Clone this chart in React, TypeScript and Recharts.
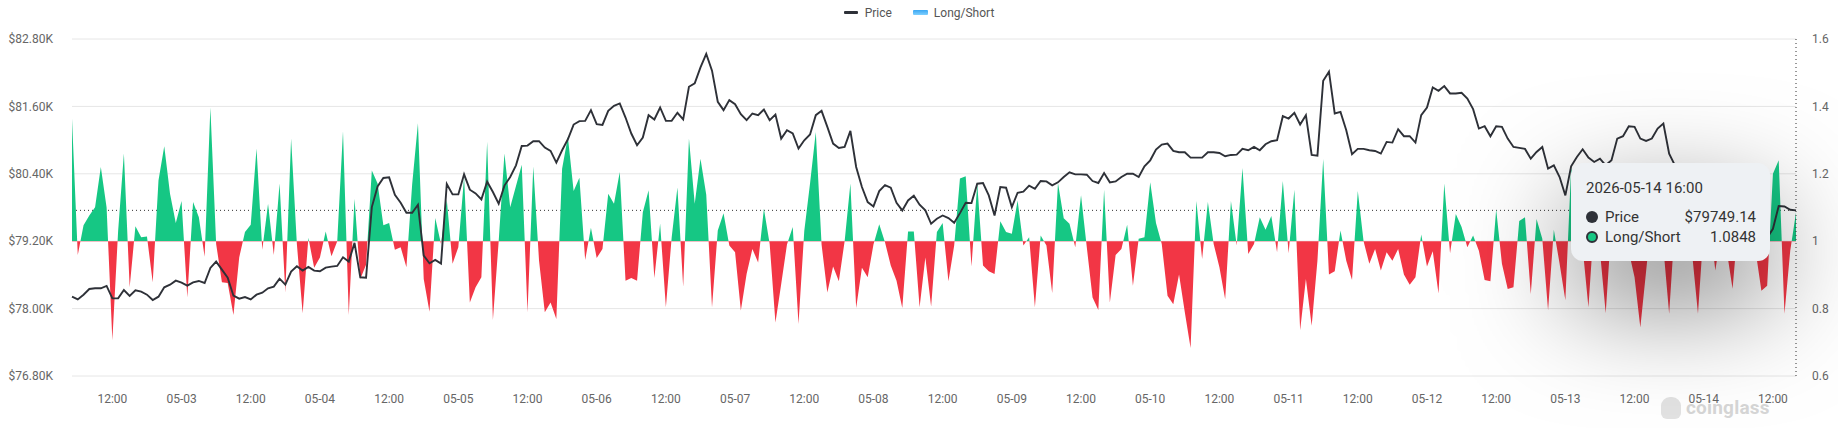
import {
  ComposedChart,
  Line,
  Area,
  XAxis,
  YAxis,
  CartesianGrid,
  Tooltip,
  Legend,
  ReferenceLine,
} from 'recharts';

// hourly samples, first one is 2026-05-02 05:00
const START_UTC = Date.UTC(2026, 4, 2, 5);
const HOUR_MS = 3600 * 1000;

const price = [
  78212, 78164, 78248, 78349, 78361, 78361, 78403, 78182, 78182, 78331,
  78224, 78325, 78301, 78248, 78152, 78212, 78379, 78426, 78498, 78462,
  78409, 78468, 78492, 78456, 78724, 78837, 78694, 78551, 78230, 78176,
  78206, 78164, 78248, 78283, 78361, 78391, 78533, 78426, 78658, 78754,
  78676, 78742, 78676, 78664, 78730, 78748, 78760, 78914, 78837, 79170,
  78557, 78551, 79807, 80176, 80325, 80337, 80027, 79884, 79706, 79706,
  79849, 78944, 78807, 78867, 78801, 80218, 80033, 80033, 80390, 80117,
  80051, 79944, 80259, 80075, 79867, 80190,
  80343, 80551, 80896, 80902, 80980, 80980, 80867, 80807, 80599, 80819,
  81015, 81277, 81337, 81343, 81533, 81283, 81271, 81521, 81611, 81652,
  81402, 81117, 80908, 81045, 81444, 81367, 81581, 81343, 81343, 81486,
  81367, 81950, 82009, 82295, 82533, 82236, 81682, 81533, 81712, 81640,
  81462, 81355, 81474, 81444, 81545, 81355, 81456, 81027, 81176, 81117,
  80849, 80997, 81099, 81444, 81521, 81236, 80938, 80861, 80879, 81164,
  80521, 80164, 79896, 79819, 80093, 80200, 80152, 79884, 79748, 79926,
  80009, 79849, 79748, 79510, 79600,
  79658, 79611, 79527, 79700, 79884, 79878, 80224, 80236, 80015, 79658,
  80164, 80152, 79807, 80063, 80081, 80188, 80134, 80271, 80265, 80194,
  80248, 80343, 80426, 80390, 80390, 80384, 80271, 80236, 80414, 80248,
  80265, 80343, 80402, 80402, 80343, 80533, 80640, 80831, 80920, 80938,
  80807, 80783, 80783, 80688, 80688, 80688, 80783, 80783, 80771, 80712,
  80736, 80742, 80843, 80819, 80879, 80819, 80926, 80980, 80998, 81426,
  81384, 81486, 81277, 81444, 80736, 80724, 82057, 82218, 81474, 81503,
  81176, 80748, 80843, 80843, 80820,
  80807, 80760, 80968, 80956, 81194, 81069, 81069, 80956, 81444, 81581,
  81938, 81878, 81962, 81831, 81831, 81843, 81741, 81551, 81206, 81247,
  81069, 81247, 81235, 81027, 80878, 80861, 80843, 80670, 80789, 80878,
  80492, 80551, 80343, 80015, 80533, 80700, 80837, 80688, 80611, 80670,
  80551, 80640, 81027, 81069, 81247, 81235, 81027, 80986, 81027, 81206,
  81295, 80760, 80551, 80400, 80236, 80310, 80150, 80040, 79960, 80010,
  79870, 79720, 79780, 79610, 79520, 79560, 79430, 79320, 79260, 79420,
  79825, 79819, 79760, 79749.14,
];

const longShort = [
  1.364, 0.959, 1.047, 1.076, 1.101, 1.22, 1.1, 0.706, 1.03, 1.26,
  0.863, 1.044, 1.012, 1.014, 0.878, 1.18, 1.282, 1.141, 1.054, 1.119,
  0.833, 1.116, 1.071, 0.954, 1.397, 0.992, 0.878, 0.876, 0.781, 0.952,
  1.027, 1.049, 1.275, 0.975, 1.111, 0.959, 1.171, 0.848, 1.305, 0.992,
  0.786, 1.01, 0.921, 0.952, 1.029, 0.955, 1.0, 1.326, 0.781, 1.126,
  0.888, 0.93, 1.21, 1.171, 1.047, 1.054, 0.975, 0.982, 0.923, 1.17,
  1.35, 0.888, 0.791, 1.069, 0.992, 1.123, 0.933, 0.982, 1.19, 0.818,
  0.863, 0.893, 1.295, 0.766, 1.0, 1.26,
  1.101, 1.164, 1.227, 0.789, 1.222, 0.942, 0.789, 0.818, 0.769, 1.215,
  1.31, 1.149, 1.188, 0.944, 1.04, 0.95, 0.977, 1.141, 1.111, 1.205,
  0.883, 0.891, 0.883, 1.086, 1.151, 0.891, 1.052, 0.804, 1.01, 1.159,
  0.865, 1.305, 1.111, 1.245, 1.138, 0.804, 1.032, 1.083, 0.987, 0.967,
  0.794, 0.903, 0.977, 0.937, 1.096, 0.992, 0.759, 0.873, 0.99, 1.042,
  0.754, 1.03, 1.171, 1.324, 0.99, 0.848, 0.925, 0.881, 1.0, 1.171,
  0.802, 0.921, 0.893, 0.99, 1.05, 0.997, 0.928, 0.883, 0.802, 1.029,
  1.029, 0.804, 0.952, 0.806, 1.027,
  1.054, 0.881, 0.987, 1.186, 1.193, 0.925, 1.171, 0.928, 0.911, 0.903,
  1.059, 1.027, 1.022, 1.121, 0.987, 1.012, 0.804, 1.017, 0.987, 0.846,
  1.173, 1.068, 1.052, 0.982, 1.136, 0.982, 0.833, 0.796, 1.153, 0.818,
  0.959, 0.977, 1.049, 0.868, 1.007, 1.012, 1.175, 1.054, 0.992, 0.838,
  0.813, 0.901, 0.789, 0.683, 1.119, 0.947, 1.116, 0.992, 0.923, 0.828,
  1.119, 0.987, 1.217, 0.962, 0.992, 1.071, 1.034, 1.075, 0.967, 1.179,
  0.964, 1.153, 0.736, 0.888, 0.749, 0.942, 1.244, 0.901, 0.911, 1.032,
  0.942, 0.885, 1.149, 1.0, 0.933,
  0.977, 0.913, 0.967, 0.942, 0.977, 0.901, 0.871, 0.893, 1.02, 0.925,
  0.97, 0.845, 1.171, 0.964, 1.081, 1.042, 0.982, 1.017, 0.972, 0.885,
  0.881, 1.094, 0.933, 0.858, 0.863, 1.06, 1.071, 0.843, 1.066, 1.007,
  0.794, 1.034, 0.933, 0.825, 1.218, 1.12, 0.98, 0.804, 1.06, 0.97,
  0.786, 1.05, 1.1, 1.03, 0.97, 0.893, 0.744, 0.91, 1.08, 1.14,
  0.98, 0.785, 1.05, 1.09, 0.99, 0.96, 0.785, 1.04, 1.07, 0.913,
  1.02, 0.97, 0.859, 1.06, 1.03, 0.98, 0.97, 0.853, 0.868, 1.2,
  1.24, 0.785, 0.972, 1.0848,
];

const priceTicks = [76800, 78000, 79200, 80400, 81600, 82800];
const ratioTicks = [0.6, 0.8, 1, 1.2, 1.4, 1.6];

const pad2 = (n: number) => String(n).padStart(2, '0');

function stamp(i: number) {
  const d = new Date(START_UTC + i * HOUR_MS);
  return `${d.getUTCFullYear()}-${pad2(d.getUTCMonth() + 1)}-${pad2(d.getUTCDate())} ${pad2(d.getUTCHours())}:00`;
}

const times = price.map((_, i) => stamp(i));
// labels every 12h: "12:00" at noon, "MM-DD" at midnight
const xTicks = times.filter((t) => t.endsWith(' 12:00') || t.endsWith(' 00:00'));

const data = times.map((t, i) => ({ t, price: price[i], ls: longShort[i] }));

// where 1.0 sits inside the area's bounding box (area is drawn against baseValue 1)
const lsMax = Math.max(...longShort);
const lsMin = Math.min(...longShort);
const splitAt = (lsMax - 1) / (lsMax - lsMin);

const GREEN = '#16c784';
const RED = '#f23645';
const DARK = '#2e3138';
const AXIS_TEXT = { fill: '#666', fontSize: 12 };

function xLabel(t: string) {
  const hh = t.slice(11);
  return hh === '12:00' ? '12:00' : t.slice(5, 10);
}

function LegendRow() {
  return (
    <div
      style={{
        height: 25,
        display: 'flex',
        justifyContent: 'center',
        alignItems: 'center',
        fontSize: 12,
        color: '#555',
      }}
    >
      <span style={{ width: 14, height: 3, background: DARK, borderRadius: 1, marginRight: 7 }} />
      <span style={{ marginRight: 21 }}>Price</span>
      <span
        style={{
          width: 15,
          height: 5,
          background: 'linear-gradient(#3aa6f2, #7fd0ff)',
          borderRadius: 1,
          marginRight: 6,
        }}
      />
      <span>Long/Short</span>
    </div>
  );
}

function Dot({ color, ring }: { color: string; ring?: boolean }) {
  return (
    <span
      style={{
        display: 'inline-block',
        boxSizing: 'border-box',
        width: 12,
        height: 12,
        borderRadius: 6,
        background: color,
        border: ring ? `2px solid ${DARK}` : 'none',
        marginRight: 7,
      }}
    />
  );
}

function TipBox({ active, payload, label }: any) {
  if (!active || !payload || !payload.length) return null;
  const p = payload.find((x: any) => x.dataKey === 'price');
  const r = payload.find((x: any) => x.dataKey === 'ls');
  const row = { display: 'flex', alignItems: 'center', height: 20 };
  return (
    <div
      style={{
        boxSizing: 'border-box',
        width: 199,
        height: 98,
        padding: '14px 14px 0 15px',
        background: '#eef1f4',
        borderRadius: 12,
        boxShadow: '0 40px 110px rgba(0,0,0,0.5)',
        fontSize: 15,
        color: '#333',
        lineHeight: '20px',
      }}
    >
      <div style={{ height: 22, lineHeight: '22px', marginBottom: 8 }}>{label}</div>
      <div style={row}>
        <Dot color={DARK} />
        <span style={{ flex: 1 }}>Price</span>
        <span>${p ? Number(p.value).toFixed(2) : ''}</span>
      </div>
      <div style={row}>
        <Dot color={GREEN} ring />
        <span style={{ flex: 1 }}>Long/Short</span>
        <span>{r ? Number(r.value).toFixed(4) : ''}</span>
      </div>
    </div>
  );
}

export default function App() {
  const last = data.length - 1;
  return (
    <div
      style={{
        position: 'absolute',
        left: 0,
        top: 0,
        width: 1838,
        height: 428,
        background: '#fff',
        fontFamily: 'Roboto, sans-serif',
      }}
    >
      {/* watermark sits behind the chart, like the original */}
      <div
        style={{
          position: 'absolute',
          left: 1661,
          top: 396,
          display: 'flex',
          alignItems: 'center',
          pointerEvents: 'none',
        }}
      >
        <span
          style={{
            width: 20,
            height: 22,
            borderRadius: '9px 9px 6px 6px',
            background: '#e2e2e2',
            marginRight: 5,
          }}
        />
        <span style={{ fontSize: 19, fontWeight: 700, color: '#d6d6d6', letterSpacing: 0.2 }}>coinglass</span>
      </div>
      <ComposedChart
        width={1838}
        height={428}
        data={data}
        margin={{ top: 14, right: 0, bottom: 22, left: 0 }}
        style={{ position: 'relative' }}
      >
        <defs>
          <linearGradient id="lsSplit" x1="0" y1="0" x2="0" y2="1">
            <stop offset={splitAt} stopColor={GREEN} />
            <stop offset={splitAt} stopColor={RED} />
          </linearGradient>
        </defs>
        <CartesianGrid yAxisId="price" vertical={false} stroke="#e6e6e6" />
        <XAxis
          dataKey="t"
          ticks={xTicks}
          interval={0}
          tickFormatter={xLabel}
          axisLine={false}
          tickLine={false}
          tickMargin={12}
          height={30}
          tick={AXIS_TEXT}
        />
        <YAxis
          yAxisId="price"
          orientation="left"
          width={72}
          domain={[76800, 82800]}
          ticks={priceTicks}
          tickFormatter={(v: number) => `$${(v / 1000).toFixed(2)}K`}
          axisLine={false}
          tickLine={false}
          tickMargin={13}
          tick={AXIS_TEXT}
        />
        <YAxis
          yAxisId="ratio"
          orientation="right"
          width={42}
          domain={[0.6, 1.6]}
          ticks={ratioTicks}
          axisLine={false}
          tickLine={false}
          tickMargin={10}
          tick={AXIS_TEXT}
        />
        <Legend verticalAlign="top" wrapperStyle={{ top: 0, left: 0, width: 1838 }} content={<LegendRow />} />
        <ReferenceLine yAxisId="price" y={price[last]} stroke="#333" strokeDasharray="1 3" zIndex={50} />
        <Area
          yAxisId="ratio"
          type="linear"
          dataKey="ls"
          name="Long/Short"
          baseValue={1}
          stroke="none"
          fill="url(#lsSplit)"
          fillOpacity={1}
          dot={false}
          activeDot={false}
          isAnimationActive={false}
        />
        <Line
          yAxisId="price"
          type="linear"
          dataKey="price"
          name="Price"
          stroke={DARK}
          strokeWidth={1.9}
          dot={false}
          activeDot={false}
          isAnimationActive={false}
        />
        <Tooltip
          defaultIndex={last}
          position={{ x: 1571, y: 163 }}
          cursor={{ stroke: '#333', strokeWidth: 1, strokeDasharray: '1 3' }}
          content={<TipBox />}
          isAnimationActive={false}
          wrapperStyle={{ outline: 'none', zIndex: 5 }}
        />
      </ComposedChart>
    </div>
  );
}
